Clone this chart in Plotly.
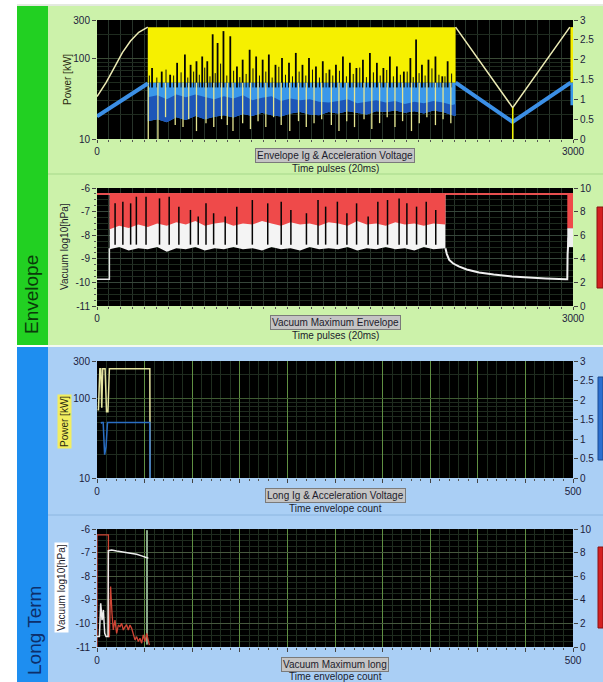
import math
import plotly.graph_objects as go

W, H = 603, 682
FONT = "Liberation Sans, Arial, sans-serif"

# ---------------- Plot 1: Envelope Ig & Acceleration Voltage (right-axis units 0..3) -------------
ramp_x = [0, 57, 109, 160, 211, 263, 320]
ramp_volt = [1.07, 1.42, 1.80, 2.18, 2.47, 2.69, 2.82]
ramp_ig_x = [0, 160, 320]
ramp_ig = [0.57, 0.99, 1.40]

dense_x = [320, 380, 440, 500, 560, 620, 680, 740, 800, 860, 920, 980, 1040, 1100, 1160, 1220, 1280,
           1340, 1400, 1460, 1520, 1580, 1640, 1700, 1760, 1820, 1880, 1940, 2000, 2060, 2120, 2180,
           2240, 2260]
dense_top = 2.82
blue_top = 1.42
blue_mid = [1.05, 1.10, 1.00, 1.12, 1.05, 1.12, 1.06, 1.00, 1.08, 1.02, 1.10, 0.98, 1.04, 1.08, 0.96,
            1.02, 0.98, 1.00, 0.94, 0.92, 0.96, 1.00, 0.90, 0.94, 0.98, 0.92, 0.96, 0.88, 0.94, 0.90,
            0.96, 0.92, 0.86, 0.88]
blue_low = [0.45, 0.50, 0.42, 0.55, 0.48, 0.58, 0.50, 0.56, 0.60, 0.54, 0.63, 0.58, 0.66, 0.60, 0.57,
            0.64, 0.68, 0.62, 0.60, 0.68, 0.64, 0.70, 0.66, 0.62, 0.70, 0.68, 0.72, 0.66, 0.70, 0.64,
            0.72, 0.68, 0.60, 0.58]

spk1_x = [347, 408, 461, 505, 554, 590, 627, 663, 695, 729, 760, 797, 840, 882, 918, 962, 1003, 1044,
          1083, 1125, 1166, 1210, 1253, 1295, 1336, 1380, 1423, 1465, 1506, 1550, 1594, 1635, 1676,
          1720, 1764, 1805, 1846, 1890, 1934, 1975, 2011, 2048, 2089, 2133, 2176, 2210]
spk1_top = [1.79, 1.70, 1.62, 1.92, 2.13, 1.87, 1.96, 2.08, 1.96, 2.64, 2.42, 2.72, 2.59, 1.83, 2.00,
            2.25, 2.08, 2.00, 2.13, 1.87, 2.04, 1.92, 2.17, 1.87, 2.04, 1.83, 1.96, 1.75, 1.87, 2.08,
            1.92, 1.79, 2.00, 2.17, 1.92, 1.79, 2.08, 1.83, 1.70, 2.04, 2.51, 1.87, 2.00, 2.08, 1.58,
            1.96]
spk1b_x = [330, 377, 435, 483, 530, 572, 609, 645, 679, 712, 745, 779, 818, 861, 900, 940, 983, 1024,
           1064, 1104, 1146, 1188, 1232, 1274, 1316, 1358, 1402, 1444, 1486, 1528, 1572, 1615, 1656,
           1698, 1742, 1785, 1826, 1868, 1912, 1955, 1993, 2030, 2068, 2111, 2155, 2193, 2235]
spk1b_top = [1.60, 1.55, 1.75, 1.60, 1.68, 1.55, 1.70, 1.62, 1.80, 1.58, 1.66, 1.90, 1.60, 1.72, 1.56,
             1.64, 1.78, 1.60, 1.70, 1.55, 1.82, 1.62, 1.58, 1.70, 1.60, 1.75, 1.55, 1.66, 1.60, 1.72,
             1.58, 1.64, 1.80, 1.56, 1.68, 1.60, 1.74, 1.58, 1.62, 1.70, 1.56, 1.66, 1.60, 1.78, 1.62,
             1.58, 1.65]
spk1_base = 1.30

yspk1_x = [323, 384, 432, 493, 542, 578, 627, 687, 736, 785, 821, 857, 918, 967, 1015, 1064, 1113,
           1161, 1215, 1270, 1319, 1368, 1416, 1477, 1525, 1574, 1623, 1683, 1732, 1781, 1829, 1878,
           1926, 1982, 2031, 2079, 2133, 2181, 2230]
yspk1_low = [0.0, 0.0, 0.55, 0.35, 0.30, 0.50, 0.20, 0.40, 0.30, 0.50, 0.35, 0.20, 0.40, 0.25, 0.45,
             0.30, 0.55, 0.35, 0.20, 0.45, 0.30, 0.40, 0.50, 0.35, 0.20, 0.45, 0.30, 0.50, 0.25, 0.40,
             0.55, 0.30, 0.45, 0.20, 0.40, 0.55, 0.35, 0.50, 0.40]

tail_volt_x = [2260, 2620, 2980]
tail_volt = [2.82, 0.79, 2.82]
tail_ig_x = [2260, 2620, 2985]
tail_ig = [1.42, 0.43, 1.42]
drop_x = [2620, 2620]
drop_y = [0.79, 0.0]
edge1_x = [2984, 3000]
edge1_ig_low = 0.85

# ---------------- Plot 2: Vacuum Maximum Envelope (left-axis units -11..-6) ----------------------
vac_band_x = [80, 140, 200, 260, 320, 380, 440, 500, 560, 620, 680, 740, 800, 860, 920, 980, 1040,
              1100, 1160, 1220, 1280, 1340, 1400, 1460, 1520, 1580, 1640, 1700, 1760, 1820, 1880,
              1940, 2000, 2060, 2120, 2196]
vac_top = -6.25
vac_red_low = [-7.75, -7.60, -7.70, -7.55, -7.65, -7.50, -7.60, -7.45, -7.55, -7.40, -7.60, -7.50,
               -7.45, -7.60, -7.50, -7.55, -7.40, -7.50, -7.60, -7.45, -7.55, -7.50, -7.60, -7.45,
               -7.50, -7.60, -7.40, -7.55, -7.50, -7.60, -7.45, -7.55, -7.50, -7.60, -7.50, -7.55]
vac_white_low = [-8.60, -8.50, -8.65, -8.55, -8.60, -8.50, -8.70, -8.55, -8.60, -8.50, -8.65, -8.55,
                 -8.60, -8.50, -8.60, -8.55, -8.65, -8.50, -8.60, -8.55, -8.65, -8.50, -8.60, -8.55,
                 -8.60, -8.50, -8.65, -8.55, -8.60, -8.50, -8.60, -8.55, -8.65, -8.50, -8.60, -8.55]
vac_spk_x = [114, 163, 212, 248, 309, 394, 455, 516, 589, 638, 687, 735, 808, 881, 979, 1076, 1161,
             1222, 1320, 1393, 1441, 1515, 1575, 1636, 1709, 1770, 1831, 1904, 1953, 2014, 2075, 2135]
vac_spk_top = [-6.65, -6.58, -6.65, -6.37, -6.37, -6.44, -6.37, -6.79, -6.93, -7.21, -6.65, -7.07,
               -7.21, -6.79, -6.51, -6.65, -6.58, -6.93, -7.07, -6.51, -6.79, -6.58, -7.07, -6.65,
               -7.21, -6.58, -6.51, -6.44, -6.65, -6.79, -6.58, -6.93]
vac_spk_base = -8.40
vac_pre_x = [0, 78, 78]
vac_pre = [-9.87, -9.87, -8.55]
vac_topline_x = [0, 3000]
vac_decay_x = [2196, 2205, 2220, 2245, 2280, 2330, 2408, 2500, 2615, 2700, 2828, 2954, 2964, 2966, 2972]
vac_decay = [-8.55, -8.80, -9.05, -9.20, -9.32, -9.45, -9.58, -9.67, -9.75, -9.79, -9.83, -9.87,
             -9.87, -8.80, -8.10]
vac_edge_x = [2964, 3000]
vac_edge_red_low = -7.70
vac_edge_white_low = -8.50

# ---------------- Plot 3: Long Ig & Acceleration Voltage (right-axis units 0..3) -----------------
lt_volt_x = [0.5, 1.5, 3.0, 4.0, 5.0, 6.0, 7.0, 8.5, 10.0, 11.5, 13.0, 55.5, 55.8]
lt_volt = [1.75, 1.75, 2.80, 2.80, 1.80, 2.80, 2.80, 2.80, 1.70, 1.70, 2.80, 2.80, 0.0]
lt_ig_x = [4.0, 5.0, 6.5, 8.0, 9.5, 11.0, 12.0, 55.5, 55.8]
lt_ig = [1.40, 1.42, 1.42, 0.60, 0.80, 1.42, 1.42, 1.42, 0.0]

# ---------------- Plot 4: Vacuum Maximum long (left-axis units -11..-6) -------------------------
lt_red_x = [0, 0, 12, 12, 13, 14.3, 15.75, 17.1, 18.9, 20.65, 22.4, 24.15, 25.9, 27.65, 29.4, 31.15,
            32.9, 34.65, 36.4, 38.15, 39.9, 41.65, 43.4, 45.15, 46.9, 48.65, 50.4, 52.15, 53.9, 55]
lt_red = [-11.0, -6.25, -6.25, -10.56, -10.56, -8.44, -9.57, -10.28, -9.86, -10.42, -10.07, -10.14,
          -10.0, -10.28, -10.14, -10.07, -10.28, -10.07, -10.21, -10.49, -10.70, -10.56, -10.77,
          -10.63, -10.84, -10.49, -10.77, -10.42, -10.77, -10.92]
lt_white_x = [0, 2.5, 3.9, 5.3, 6.7, 8.1, 9.5, 11.6, 11.9, 15.4, 20.65, 25.9, 31.15, 36.4, 41.65,
              46.9, 52.15, 53.9]
lt_white = [-10.56, -10.56, -9.15, -9.86, -9.43, -10.42, -10.56, -10.56, -6.92, -6.89, -6.93, -6.96,
            -6.99, -7.03, -7.07, -7.14, -7.20, -7.24]
lt_mark_x = [52.5, 52.5]
lt_mark = [-6.05, -10.90]

# ---------------- Axis tick labels ----------------
pow_ticks = [10, 100, 300]
pow_minor = [20, 30, 40, 50, 60, 70, 80, 90, 200]
vac_ticks = [-11, -10, -9, -8, -7, -6]
lt_xticks = [0, 50, 100, 150, 200, 250, 300, 350, 400, 450, 500]


def px(x):
    return x / W


def py(y):
    return 1 - y / H


def spikes(xs, y0, y1s):
    X, Y = [], []
    for x, b in zip(xs, y1s):
        X += [x, x, None]
        Y += [y0, b, None]
    return X, Y


XD = [px(97), px(573)]
D1 = [py(139), py(20)]
D2 = [py(306), py(188)]
D3 = [py(478), py(361)]
D4 = [py(647), py(529)]

fig = go.Figure()


def add(x, y, xa, ya, **kw):
    fig.add_trace(go.Scatter(x=x, y=y, xaxis=xa, yaxis=ya, hoverinfo="skip", showlegend=False, **kw))


# invisible traces so that every axis (and its subplot) exists
for xa, ya in [("x", "y"), ("x2", "y4"), ("x3", "y5"), ("x4", "y8")]:
    add([None], [None], xa, ya, mode="markers", marker=dict(opacity=0))

# ---- Plot 1 traces
add([dense_x[0], dense_x[-1], dense_x[-1], dense_x[0]], [dense_top, dense_top, blue_top, blue_top],
    "x", "y2", mode="lines", fill="toself", fillcolor="#f6f000", line=dict(width=0))
add(dense_x + dense_x[::-1], [blue_top] * len(dense_x) + blue_low[::-1], "x", "y2", mode="lines",
    fill="toself", fillcolor="#3a98ea", line=dict(width=0))
add(dense_x + dense_x[::-1], blue_mid + blue_low[::-1], "x", "y2", mode="lines",
    fill="toself", fillcolor="#1d56b8", line=dict(width=0))
sx, sy = spikes(spk1b_x, spk1_base, spk1b_top)
add(sx, sy, "x", "y2", mode="lines", line=dict(color="#101010", width=1.0))
sx, sy = spikes(spk1_x, spk1_base, spk1_top)
add(sx, sy, "x", "y2", mode="lines", line=dict(color="#050505", width=1.8))
sx, sy = spikes(yspk1_x, blue_top, yspk1_low)
add(sx, sy, "x", "y2", mode="lines", line=dict(color="#e6e690", width=1.3))
add(ramp_x, ramp_volt, "x", "y2", mode="lines", line=dict(color="#ecebb4", width=1.5))
add(ramp_ig_x, ramp_ig, "x", "y2", mode="lines", line=dict(color="#3b8fe6", width=4))
add(tail_volt_x, tail_volt, "x", "y2", mode="lines", line=dict(color="#ecebb4", width=1.5))
add(tail_ig_x, tail_ig, "x", "y2", mode="lines", line=dict(color="#3b8fe6", width=4))
add(drop_x, drop_y, "x", "y2", mode="lines", line=dict(color="#f0f000", width=1.5))
add([edge1_x[0], edge1_x[1], edge1_x[1], edge1_x[0]], [dense_top, dense_top, blue_top, blue_top],
    "x", "y2", mode="lines", fill="toself", fillcolor="#f6f000", line=dict(width=0))
add([edge1_x[0], edge1_x[1], edge1_x[1], edge1_x[0]], [blue_top, blue_top, edge1_ig_low, edge1_ig_low],
    "x", "y2", mode="lines", fill="toself", fillcolor="#3a98ea", line=dict(width=0))

# ---- Plot 2 traces
add(vac_topline_x, [vac_top, vac_top], "x2", "y3", mode="lines", line=dict(color="#e85050", width=2))
add(vac_band_x + vac_band_x[::-1], [vac_top] * len(vac_band_x) + vac_white_low[::-1], "x2", "y3",
    mode="lines", fill="toself", fillcolor="#f4f4f4", line=dict(width=0))
add(vac_band_x + vac_band_x[::-1], [vac_top] * len(vac_band_x) + vac_red_low[::-1], "x2", "y3",
    mode="lines", fill="toself", fillcolor="#ef4a4a", line=dict(width=0))
sx, sy = spikes(vac_spk_x, vac_spk_base, vac_spk_top)
add(sx, sy, "x2", "y3", mode="lines", line=dict(color="#050505", width=1.5))
add(vac_pre_x, vac_pre, "x2", "y3", mode="lines", line=dict(color="#e8e8e8", width=1.5))
add(vac_decay_x, vac_decay, "x2", "y3", mode="lines", line=dict(color="#f0f0f0", width=2))
ex = [vac_edge_x[0], vac_edge_x[1], vac_edge_x[1], vac_edge_x[0]]
add(ex, [vac_edge_red_low, vac_edge_red_low, vac_edge_white_low, vac_edge_white_low], "x2", "y3",
    mode="lines", fill="toself", fillcolor="#f0f0f0", line=dict(width=0))
add(ex, [vac_top, vac_top, vac_edge_red_low, vac_edge_red_low], "x2", "y3",
    mode="lines", fill="toself", fillcolor="#ef4a4a", line=dict(width=0))

# ---- Plot 3 traces
add(lt_volt_x, lt_volt, "x3", "y6", mode="lines", line=dict(color="#e4e4a0", width=1.5))
add(lt_ig_x, lt_ig, "x3", "y6", mode="lines", line=dict(color="#2a6ec4", width=1.5))

# ---- Plot 4 traces
add(lt_mark_x, lt_mark, "x4", "y7", mode="lines", line=dict(color="#8aa88a", width=2))
add(lt_red_x, lt_red, "x4", "y7", mode="lines", line=dict(color="#d04535", width=1.3))
add(lt_white_x, lt_white, "x4", "y7", mode="lines", line=dict(color="#ececec", width=1.5))

tickfont = dict(family=FONT, size=10, color="#1c1c3c")


def xaxis_env(anchor):
    return dict(domain=XD, anchor=anchor, range=[0, 3000], tick0=0, dtick=3000, ticks="outside",
                ticklen=3, tickcolor="#444", showgrid=False, zeroline=False, showline=False,
                automargin=False, tickfont=tickfont,
                minor=dict(tickmode="linear", tick0=0, dtick=75, ticks="outside", ticklen=2,
                           tickcolor="#555", showgrid=True, gridcolor="#27332a"))


def xaxis_lt(anchor):
    return dict(domain=XD, anchor=anchor, range=[0, 500], tickmode="array", tickvals=lt_xticks,
                ticktext=[str(v) if v in (0, 500) else "" for v in lt_xticks], ticks="outside",
                ticklen=4, tickcolor="#444", showgrid=True, gridcolor="#5f8f42", gridwidth=1,
                zeroline=False, showline=False, automargin=False, tickfont=tickfont,
                minor=dict(tickmode="linear", tick0=0, dtick=10, ticks="outside", ticklen=2,
                           tickcolor="#555", showgrid=True, gridcolor="#1f2d1f"))


def yaxis_pow(domain, anchor, gc):
    return dict(domain=domain, anchor=anchor, type="log", range=[1, math.log10(300)],
                tickmode="array", tickvals=pow_ticks, ticktext=[str(v) for v in pow_ticks],
                ticks="outside", ticklen=4, tickcolor="#444", showgrid=True, gridcolor=gc,
                zeroline=False, showline=False, automargin=False, tickfont=tickfont,
                minor=dict(tickmode="array", tickvals=pow_minor, showgrid=True,
                           gridcolor="#1f2b1f", ticks=""))


def yaxis_vac(domain, anchor, gc):
    return dict(domain=domain, anchor=anchor, range=[-11, -6], tickmode="array", tickvals=vac_ticks,
                ticktext=["-" + str(abs(v)) for v in vac_ticks], ticks="outside", ticklen=4,
                tickcolor="#444", showgrid=True, gridcolor=gc, zeroline=False, showline=False,
                automargin=False, tickfont=tickfont,
                minor=dict(tickmode="linear", tick0=-11, dtick=0.25, ticks="outside", ticklen=2,
                           tickcolor="#555", showgrid=True, gridcolor="#1f2b1f"))


def yaxis_right(over, domain, anchor, rng, dt):
    return dict(overlaying=over, domain=domain, anchor=anchor, side="right", range=rng, dtick=dt,
                ticks="outside", ticklen=4, tickcolor="#444", showgrid=False, zeroline=False,
                showline=False, automargin=False, tickfont=tickfont)


fig.update_layout(
    width=W, height=H, autosize=False, margin=dict(l=0, r=0, t=0, b=0, pad=0),
    paper_bgcolor="white", plot_bgcolor="rgba(0,0,0,0)", showlegend=False,
    xaxis=xaxis_env("y"), yaxis=yaxis_pow(D1, "x", "#3a4a36"),
    yaxis2=yaxis_right("y", D1, "x", [0, 3], 0.5),
    xaxis2=xaxis_env("y3"), yaxis3=yaxis_vac(D2, "x2", "#36463a"),
    yaxis4=yaxis_right("y3", D2, "x2", [0, 10], 2),
    xaxis3=xaxis_lt("y5"), yaxis5=yaxis_pow(D3, "x3", "#3e5a32"),
    yaxis6=yaxis_right("y5", D3, "x3", [0, 3], 0.5),
    xaxis4=xaxis_lt("y7"), yaxis7=yaxis_vac(D4, "x4", "#46583e"),
    yaxis8=yaxis_right("y7", D4, "x4", [0, 10], 2),
)

shapes = []


def rect(x0, y0, x1, y1, color, line=None):
    shapes.append(dict(type="rect", xref="paper", yref="paper", x0=px(x0), x1=px(x1), y0=py(y1),
                       y1=py(y0), fillcolor=color, line=dict(width=0) if line is None else line,
                       layer="below"))


def hline(x0, x1, y, color):
    shapes.append(dict(type="line", xref="paper", yref="paper", x0=px(x0), x1=px(x1), y0=py(y),
                       y1=py(y), line=dict(color=color, width=1), layer="below"))


rect(48, 6, 603, 345, "#ccf2aa")
rect(17, 6, 48, 345, "#22d022")
rect(48, 347, 603, 682, "#aacff5")
rect(17, 347, 48, 682, "#1e8ef0")
hline(17, 603, 5, "#c8d4c0")
hline(48, 603, 174, "#a6d88a")
hline(48, 603, 346, "#e8f4e0")
hline(48, 603, 515, "#8cb6e0")
for d in (D1, D2, D3, D4):
    shapes.append(dict(type="rect", xref="paper", yref="paper", x0=XD[0], x1=XD[1], y0=d[0], y1=d[1],
                       fillcolor="#000000", line=dict(width=0), layer="below"))
rect(597, 207, 603, 288, "#d42020", dict(color="#8a1010", width=1))
rect(598, 377, 603, 460, "#2a6fd0", dict(color="#1a4a90", width=1))
rect(598, 547, 603, 628, "#d42020", dict(color="#8a1010", width=1))
fig.update_layout(shapes=shapes)

ann = []


def text(x, y, s, size=10, color="#1c1c2c", angle=0, bg=None, border=None):
    d = dict(xref="paper", yref="paper", x=px(x), y=py(y), text=s, showarrow=False, textangle=angle,
             font=dict(family=FONT, size=size, color=color), xanchor="center", yanchor="middle")
    if bg:
        d["bgcolor"] = bg
        d["borderpad"] = 1
    if border:
        d["bordercolor"] = border
        d["borderwidth"] = 1
    ann.append(d)


text(335, 155, "Envelope Ig &amp; Acceleration Voltage", bg="#c4c4c4", border="#7a7a7a")
text(335, 168, "Time pulses (20ms)")
text(335, 322, "Vacuum Maximum Envelope", bg="#c4c4c4", border="#7a7a7a")
text(335, 335, "Time pulses (20ms)")
text(335, 495, "Long Ig &amp; Acceleration Voltage", bg="#c4c4c4", border="#7a7a7a")
text(335, 508, "Time envelope count")
text(335, 664, "Vacuum Maximum long", bg="#c4c4c4", border="#7a7a7a")
text(335, 676, "Time envelope count")
text(67, 80, "Power [kW]", angle=-90, color="#2a2a10")
text(64, 247, "Vacuum log10[hPa]", angle=-90)
text(64, 422, "Power [kW]", angle=-90, bg="#f2ee60", color="#2a2a10")
text(61, 588, "Vacuum log10[hPa]", angle=-90, bg="#ffffff")
text(31, 295, "Envelope", size=19, color="#0a3a0a", angle=-90)
text(34, 631, "Long Term", size=19, color="#0d2f6b", angle=-90)
fig.update_layout(annotations=ann)

fig.write_html(
    "out.html",
    config={"displayModeBar": False},
    post_script=(
        "document.documentElement.style.overflow='hidden';"
        "document.documentElement.style.margin='0px';"
        "document.body.style.margin='0px';document.body.style.padding='0px';"
        "document.body.style.overflow='hidden';"
    ),
)
